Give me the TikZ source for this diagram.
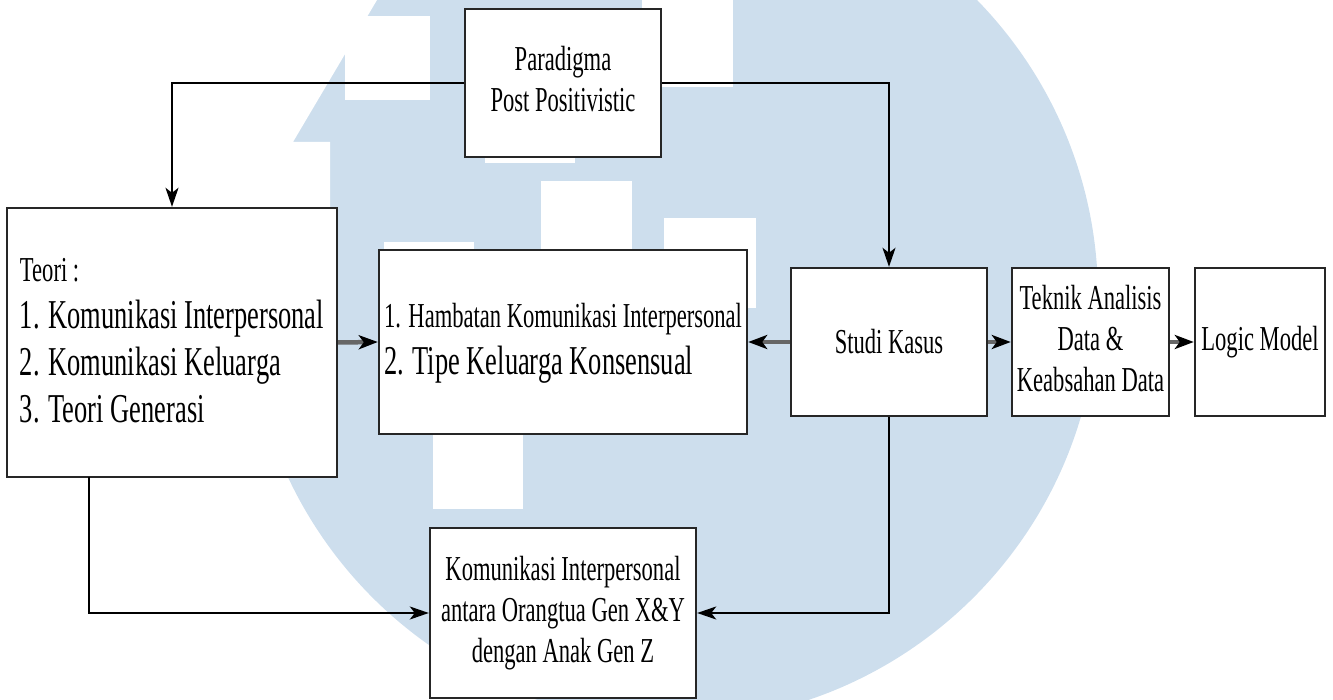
\documentclass[tikz,border=0pt]{standalone}
\usepackage{fontspec}
\setmainfont{Liberation Serif}
\usetikzlibrary{arrows.meta}

\definecolor{logoblue}{RGB}{205,222,237}
\newcommand{\narrow}[1]{\scalebox{0.645}[1]{#1}}
\newcommand{\smalltxt}{\fontsize{35}{41}\selectfont}
\newcommand{\bigtxt}{\fontsize{41}{47}\selectfont}

\tikzset{
	box/.style={draw=black!85, line width=2.4pt, fill=white, inner sep=0pt, font=\smalltxt},
	link/.style={line width=2pt, -{Stealth[length=19pt, width=13pt, inset=5pt]}},
	stub/.style={draw=black!60, line width=4.5pt, -{Stealth[length=19pt, width=14pt, inset=5pt, color=black]}},
}

\begin{document}
\begin{tikzpicture}[x=1pt, y=-1pt]
	\useasboundingbox (0,0) rectangle (1333,700);

	\begin{scope}
		\clip (0,0) rectangle (1333,700);
		\fill[logoblue] (673,297) circle (425pt);
		\fill[white] (0,0) -- (377,0) -- (293,142) -- (330,142) -- (330,478) -- (0,478) -- cycle;
		\fill[white] (345,16) rectangle (430,100);
		\fill[white] (642,0) rectangle (733,87);
		\fill[white] (485,100) rectangle (575,163);
		\fill[white] (541,181) rectangle (632,300);
		\fill[white] (664,218) rectangle (756,308);
		\fill[white] (384,242) rectangle (474,300);
		\fill[white] (433,380) rectangle (523,509);
	\end{scope}

	\node[box, minimum width=196pt, minimum height=148pt] (para) at (563,83)
		{\narrow{\begin{tabular}{@{}c@{}}Paradigma\\Post Positivistic\end{tabular}}};
	\node[box, minimum width=330pt, minimum height=269pt] (teori) at (172,342.5)
		{\bigtxt\narrow{\begin{tabular}{@{}l@{}}\smalltxt Teori :\\1. Komunikasi Interpersonal\\2. Komunikasi Keluarga\\3. Teori Generasi\end{tabular}}};
	\node[box, minimum width=368pt, minimum height=184pt] (hambat) at (563,342)
		{\bigtxt\narrow{\begin{tabular}{@{}l@{}}\smalltxt 1. Hambatan Komunikasi Interpersonal\\2. Tipe Keluarga Konsensual\end{tabular}}};
	\node[box, minimum width=196pt, minimum height=148pt] (studi) at (889,342)
		{\narrow{Studi Kasus}};
	\node[box, minimum width=157pt, minimum height=148pt] (teknik) at (1090.5,342)
		{\narrow{\begin{tabular}{@{}c@{}}Teknik Analisis\\Data \&\\Keabsahan Data\end{tabular}}};
	\node[box, minimum width=130pt, minimum height=148pt] (logic) at (1260,342)
		{\narrow{Logic Model}};
	\node[box, minimum width=266pt, minimum height=170pt] (komun) at (563,613)
		{\narrow{\begin{tabular}{@{}c@{}}Komunikasi Interpersonal\\antara Orangtua Gen X\&Y\\dengan Anak Gen Z\end{tabular}}};

	\coordinate (tfoot) at (89,477);

	\draw[link] (para.west) -| (teori.north);
	\draw[link] (para.east) -| (studi.north);
	\draw[stub] (teori.east) -- (hambat.west);
	\draw[stub] (studi.west) -- (hambat.east);
	\draw[stub] (studi.east) -- (teknik.west);
	\draw[stub] (teknik.east) -- (logic.west);
	\draw[link] (tfoot) |- (komun.west);
	\draw[link] (studi.south) |- (komun.east);
\end{tikzpicture}
\end{document}
